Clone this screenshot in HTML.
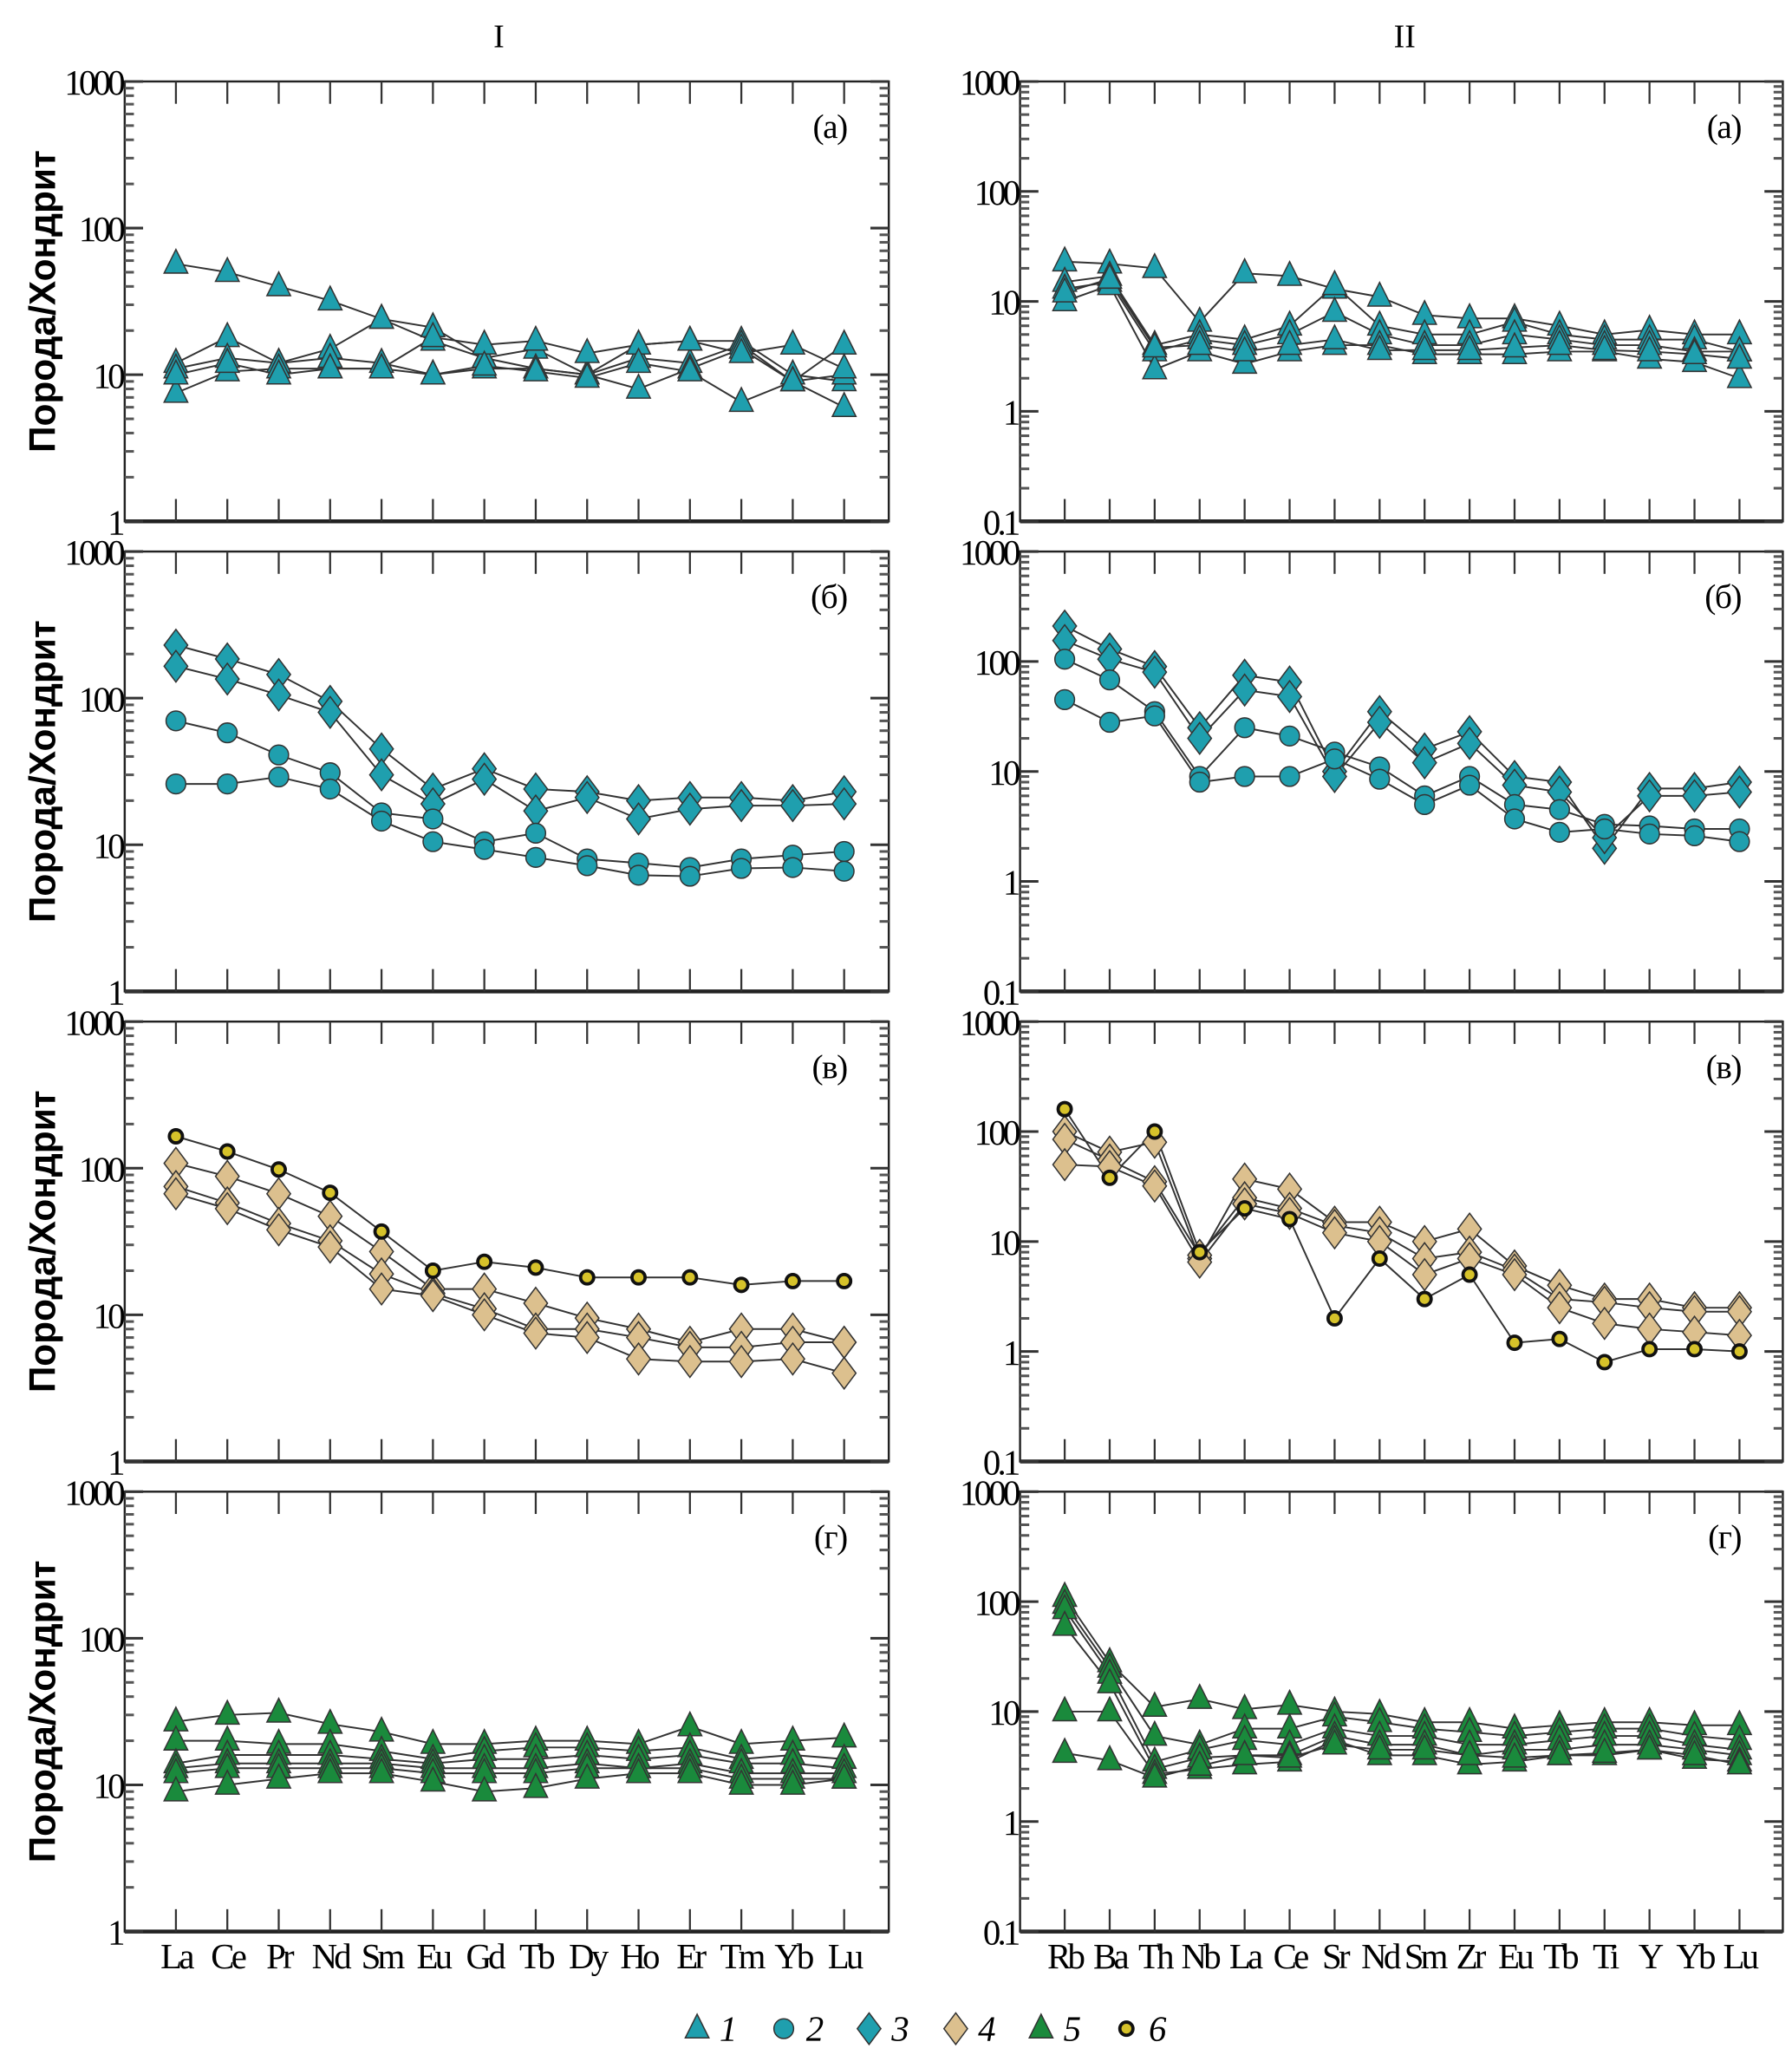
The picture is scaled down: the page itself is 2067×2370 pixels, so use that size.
<!DOCTYPE html>
<html><head><meta charset="utf-8">
<style>
html,body{margin:0;padding:0;background:#fff;}
svg{display:block;}
text{font-family:"Liberation Serif",serif;}
</style></head>
<body>
<svg id="fig" xmlns="http://www.w3.org/2000/svg" width="2067" height="2370" viewBox="0 0 1365 1565"></svg>
<script>
// ---------- categories ----------
const reeCats = ["La","Ce","Pr","Nd","Sm","Eu","Gd","Tb","Dy","Ho","Er","Tm","Yb","Lu"];
const spiderCats = ["Rb","Ba","Th","Nb","La","Ce","Sr","Nd","Sm","Zr","Eu","Tb","Ti","Y","Yb","Lu"];
const leftTicks = ["1","10","100","1000"];
const rightTicks = ["0.1","1","10","100","1000"];
const panelLabels = ["(а)","(б)","(в)","(г)"];

// ---------- I(а) type 1 ----------
const Ia_1a = [57,50,40,32,24,17,13,11,10,16,17,17,10,9];
const Ia_1b = [12,18,12,15,24,21,13,15,10,13,12,16,9,16];
const Ia_1c = [11,13,12,13,12,10,11,11,10,8,11,15,9,10];
const Ia_1d = [7.5,10.5,11,11,11,18,16,17,14,16,17,14,16,11];
const Ia_1e = [10,12,10,11,11,10,11.5,10.5,9.5,12,10.5,6.5,9,6];
// ---------- I(б) ----------
const Ib_3a = [230,185,145,95,45,24,33,24,23,20,21,21,20,23];
const Ib_3b = [165,135,105,80,30,19,28,17,21,15,17.5,18.5,18.5,19];
const Ib_2a = [70,58,41,31,16.5,15,10.5,12,8,7.5,7,8,8.5,9];
const Ib_2b = [26,26,29,24,14.5,10.5,9.3,8.2,7.2,6.2,6.1,6.9,7,6.6];
// ---------- I(в) ----------
const Iv_6a = [165,130,98,68,37,20,23,21,18,18,18,16,17,17];
const Iv_4a = [108,88,67,47,27,15,15,12,9.5,8,6.5,8,8,6.5];
const Iv_4b = [75,58,42,32,19,14,11,8,8,7,6,6,6.5,6.5];
const Iv_4c = [67,53,38,29,15,13.5,10,7.5,7,5,4.8,4.8,5,4];
// ---------- I(г) ----------
const Ig_5a = [27,30,31,26,23,19,19,20,20,19,25,19,20,21];
const Ig_5b = [20,20,19,19,17,15,17,18,18,17,18,15,16,15];
const Ig_5c = [14,16,16,16,15,14,15,15,16,15,16,14,14,13];
const Ig_5d = [13,14,14,14,14,13,13,13,14,13,14,12,12,12];
const Ig_5e = [12,13,13,13,13,12,12,12,13,13,13,11,11,11];
const Ig_5f = [9,10,11,12,12,10.5,9,9.5,11,12,12,10,10,11];
// ---------- II(а) ----------
const IIa_1a = [23,22,20,6.5,18,17,13,11,7.5,7,7,6,5,5.5,5,5];
const IIa_1b = [15,17,4,5,4.5,6,14,6,5,5,6.5,5,4.5,4.5,4.5,3.5];
const IIa_1c = [13,15,3.5,4.5,4,5,8,5,4,4,5,4.5,4,4,3.5,3.5];
const IIa_1d = [10,14,2.4,3.5,2.7,3.5,4,4,3.3,3.3,3.3,3.5,3.5,3,2.8,2];
const IIa_1e = [12,16,3.8,4,3.5,4,4.5,3.6,3.6,3.6,3.8,4,3.6,3.5,3.3,3];
// ---------- II(б) ----------
const IIb_3a = [210,130,90,25,75,65,10,35,16,23,9,8,2,7,7,8];
const IIb_3b = [155,105,80,20,55,48,9,28,12,18,7.5,6.5,2.5,6,6,6.5];
const IIb_2a = [105,68,35,9,25,21,15,11,6,9,5,4.5,3.3,3.2,3,3];
const IIb_2b = [45,28,32,8,9,9,13,8.5,5,7.5,3.7,2.8,3,2.7,2.6,2.3];
// ---------- II(в) ----------
const IIv_6a = [160,38,100,8,20,16,2,7,3,5,1.2,1.3,0.8,1.05,1.05,1.0];
const IIv_4a = [100,65,80,7,37,30,15,15,10,13,6,4,3,3,2.5,2.5];
const IIv_4b = [85,55,35,7.5,25,20,14,12,7,8,5.5,3,2.8,2.5,2.3,2.3];
const IIv_4c = [50,48,32,6.5,22,18,12,10,5,7,5,2.5,1.8,1.6,1.5,1.4];
// ---------- II(г) ----------
const IIg_5a = [110,28,11,13,10.5,11.5,10,9.5,8,8,7,7.5,8,8,7.5,7.5];
const IIg_5b = [95,25,6,5,7,7,9,8,7,6.5,6,6.5,7,7,6,5.5];
const IIg_5c = [85,22,3.5,4.5,5.5,5,7,6,6,5,5,5.5,6,6,5,4.5];
const IIg_5d = [60,18,3,3.8,4,4,6,5,5,4,4.5,4.5,5,5,4.5,4];
const IIg_5e = [10,10,2.7,3,3.3,3.5,5.5,4,4,3.3,3.5,4,4,4.5,3.7,3.5];
const IIg_5f = [4.2,3.6,2.5,3.2,4,3.8,5,4.5,4.5,4,3.8,4,4.2,4.5,4,3.3];

const NS="http://www.w3.org/2000/svg";
const svg=document.getElementById('fig');
function mk(tag,attrs,parent){const e=document.createElementNS(NS,tag);for(const k in attrs)e.setAttribute(k,attrs[k]);(parent||svg).appendChild(e);return e;}

const STY={
 1:{shape:'tri',fill:'#1f9fae'},2:{shape:'circ',fill:'#1f9fae'},3:{shape:'dia',fill:'#1f9fae'},
 4:{shape:'dia',fill:'#dcc08e'},5:{shape:'tri',fill:'#1a8a3c'},6:{shape:'dot',fill:'#d6c22a'}
};
function marker(g,type,x,y,scale){
  const s=STY[type];const k=scale||1;let e;
  if(s.shape==='tri'){e=mk('polygon',{points:`${x},${y-11*k} ${x-9*k},${y+7*k} ${x+9*k},${y+7*k}`,fill:s.fill,stroke:'#333','stroke-width':1},g);}
  else if(s.shape==='circ'){e=mk('circle',{cx:x,cy:y,r:7.5*k,fill:s.fill,stroke:'#333','stroke-width':1},g);}
  else if(s.shape==='dia'){e=mk('polygon',{points:`${x},${y-12*k} ${x+9*k},${y} ${x},${y+12*k} ${x-9*k},${y}`,fill:s.fill,stroke:'#333','stroke-width':1},g);}
  else {e=mk('circle',{cx:x,cy:y,r:5*k,fill:s.fill,stroke:'#111','stroke-width':2.5},g);}
  return e;
}

const rowsTop=[62,420,778,1136], H=335;
const cols=[{x0:95,x1:677,cats:reeCats,min:0,max:3,ticks:leftTicks,first:134,last:643},
            {x0:777,x1:1358,cats:spiderCats,min:-1,max:3,ticks:rightTicks,first:811,last:1325}];
const panels=[
 [[ [1,Ia_1a],[1,Ia_1b],[1,Ia_1c],[1,Ia_1d],[1,Ia_1e] ], [[1,IIa_1a],[1,IIa_1b],[1,IIa_1c],[1,IIa_1d],[1,IIa_1e]]],
 [[ [3,Ib_3a],[3,Ib_3b],[2,Ib_2a],[2,Ib_2b] ], [[3,IIb_3a],[3,IIb_3b],[2,IIb_2a],[2,IIb_2b]]],
 [[ [4,Iv_4a],[4,Iv_4b],[4,Iv_4c],[6,Iv_6a] ], [[4,IIv_4a],[4,IIv_4b],[4,IIv_4c],[6,IIv_6a]]],
 [[ [5,Ig_5a],[5,Ig_5b],[5,Ig_5c],[5,Ig_5d],[5,Ig_5e],[5,Ig_5f] ], [[5,IIg_5a],[5,IIg_5b],[5,IIg_5c],[5,IIg_5d],[5,IIg_5e],[5,IIg_5f]]]
];

let t=mk('text',{x:380,y:36,'font-size':25,'text-anchor':'middle'});t.textContent='I';

t=mk('text',{x:1070,y:36,'font-size':25,'text-anchor':'middle'});t.textContent='II';


for(let r=0;r<4;r++){
 for(let c=0;c<2;c++){
  const C=cols[c];const top=rowsTop[r],bot=top+H;
  const g=mk('g',{});
  
  
  const yS=v=>bot-(Math.log10(v)-C.min)/(C.max-C.min)*H;
  const step=(C.last-C.first)/(C.cats.length-1);
  const xS=i=>C.first+i*step;
  const fr=mk('rect',{x:C.x0,y:top,width:C.x1-C.x0,height:H,fill:'none',stroke:'#222','stroke-width':1.6},g);
  
  mk('line',{x1:C.x0,y1:bot,x2:C.x1,y2:bot,stroke:'#222','stroke-width':3},g);
  for(let d=C.min;d<=C.max;d++){
    const y=yS(Math.pow(10,d));
    mk('line',{x1:C.x0,y1:y,x2:C.x0+14,y2:y,stroke:'#333','stroke-width':2},g);
    mk('line',{x1:C.x1,y1:y,x2:C.x1-14,y2:y,stroke:'#333','stroke-width':2},g);
    if(d<C.max){for(let m=2;m<10;m++){const ym=yS(m*Math.pow(10,d));
      mk('line',{x1:C.x0,y1:ym,x2:C.x0+7,y2:ym,stroke:'#555','stroke-width':2},g);
      mk('line',{x1:C.x1,y1:ym,x2:C.x1-7,y2:ym,stroke:'#555','stroke-width':2},g);}}
    const lb=mk('text',{x:C.x0-2,y:y+10,'font-size':27,'text-anchor':'end','letter-spacing':-2.5},g);
    lb.textContent=C.ticks[d-C.min];
    
  }
  C.cats.forEach((cat,i)=>{const x=xS(i);
    mk('line',{x1:x,y1:top,x2:x,y2:top+17,stroke:'#333','stroke-width':1.5},g);
    mk('line',{x1:x,y1:bot,x2:x,y2:bot-17,stroke:'#333','stroke-width':1.5},g);
    if(r===3){const xl=mk('text',{x:x,y:bot+28,'font-size':27,'text-anchor':'middle','letter-spacing':-2.5},g);
      xl.textContent=cat;}
  });
  const pl=mk('text',{x:C.x1-32,y:top+43,'font-size':26,'text-anchor':'end','letter-spacing':-1},g);
  pl.textContent=panelLabels[r];
  if(c===0){const cy=(top+bot)/2;
    const yt=mk('text',{x:42,y:cy,'font-size':28,'font-weight':'bold','style':'font-family:"Liberation Sans",sans-serif','text-anchor':'middle',transform:`rotate(-90 42 ${cy})`},g);
    yt.textContent='Порода/Хондрит';}
  panels[r][c].forEach(([type,vals],si)=>{
    const sg=mk('g',{},g);
    
    
    const pts=vals.map((v,i)=>`${xS(i)},${yS(v)}`).join(' ');
    const ln=mk('polyline',{points:pts,fill:'none',stroke:'#333','stroke-width':1.3},sg);
    
  });
  panels[r][c].forEach(([type,vals],si)=>{
    vals.forEach((v,i)=>{const m=marker(g,type,xS(i),yS(v));
      });
  });
 }
}
const leg=mk('g',{});

const legX=[531,597,662,728,793,858];
legX.forEach((x,i)=>{const m=marker(leg,i+1,x,1545,1);
  
  const tx=mk('text',{x:x+17,y:1554,'font-size':27,'font-style':'italic'},leg);tx.textContent=String(i+1);
  });
</script>
</body></html>
